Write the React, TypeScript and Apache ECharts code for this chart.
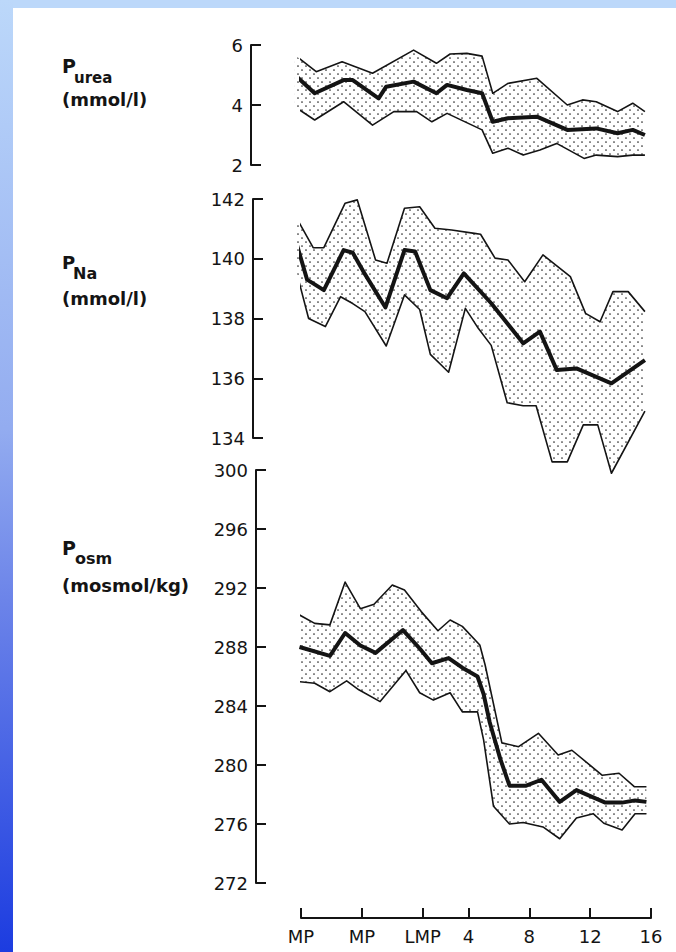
import React, { useEffect, useRef } from 'react';
import * as echarts from 'echarts';

// ---- x axis (weeks, with pre-pregnancy markers) ----
const xTickValues = [-7, -3, 1, 4, 8, 12, 16];
const xTickLabels = ['MP', 'MP', 'LMP', '4', '8', '12', '16'];

// ---- Plasma urea (mmol/l) ----
const ureaUpper = [[-7.4, 5.67], [-6.0, 5.11], [-4.3, 5.44], [-2.3, 5.06], [0.4, 5.83], [1.9, 5.39], [2.8, 5.7], [3.9, 5.72], [4.9, 5.63], [5.6, 4.39], [6.6, 4.72], [8.5, 4.89], [10.5, 4.0], [11.5, 4.17], [12.4, 4.11], [13.8, 3.78], [14.8, 4.06], [15.6, 3.78]];
const ureaMean = [[-7.4, 5.0], [-6.1, 4.39], [-4.2, 4.83], [-3.6, 4.83], [-1.9, 4.22], [-1.4, 4.61], [0.4, 4.78], [1.9, 4.39], [2.6, 4.67], [3.9, 4.5], [4.9, 4.39], [5.6, 3.44], [6.6, 3.56], [8.5, 3.61], [10.5, 3.17], [12.4, 3.22], [13.8, 3.06], [14.8, 3.17], [15.6, 3.0]];
const ureaLower = [[-7.4, 3.94], [-6.1, 3.5], [-4.2, 4.11], [-2.3, 3.33], [-0.9, 3.78], [0.6, 3.78], [1.6, 3.44], [2.6, 3.72], [4.9, 3.17], [5.6, 2.39], [6.6, 2.56], [7.6, 2.33], [8.7, 2.5], [9.8, 2.72], [11.6, 2.22], [12.4, 2.33], [13.8, 2.28], [14.8, 2.33], [15.6, 2.33]];

// ---- Plasma sodium (mmol/l) ----
const naUpper = [[-7.4, 141.46], [-6.2, 140.37], [-5.5, 140.37], [-4.1, 141.86], [-3.3, 141.97], [-2.8, 141.13], [-2.1, 139.96], [-1.35, 139.85], [-0.2, 141.69], [0.8, 141.74], [1.8, 141.02], [2.9, 140.96], [4.4, 140.85], [4.8, 140.82], [5.75, 140.02], [6.6, 139.96], [7.7, 139.23], [8.9, 140.13], [10.7, 139.4], [11.7, 138.17], [12.65, 137.89], [13.5, 138.9], [14.5, 138.9], [15.6, 138.23]];
const naMean = [[-7.3, 140.52], [-6.6, 139.3], [-5.5, 138.95], [-4.2, 140.29], [-3.6, 140.2], [-2.9, 139.57], [-1.45, 138.37], [-0.2, 140.29], [0.5, 140.24], [1.5, 138.95], [2.6, 138.68], [3.7, 139.51], [5.5, 138.51], [7.6, 137.17], [8.7, 137.56], [9.8, 136.28], [11.1, 136.33], [13.4, 135.83], [15.6, 136.61]];
const naLower = [[-7.3, 139.57], [-6.5, 138.0], [-5.4, 137.73], [-4.4, 138.73], [-3.6, 138.5], [-2.8, 138.23], [-1.4, 137.08], [-0.2, 138.79], [0.8, 138.3], [1.5, 136.8], [2.7, 136.2], [3.8, 138.34], [4.65, 137.67], [5.5, 137.1], [6.55, 135.18], [7.6, 135.08], [8.45, 135.08], [9.5, 133.2], [10.5, 133.2], [11.55, 134.44], [12.5, 134.44], [13.4, 132.82], [15.6, 134.9]];

// ---- Plasma osmolality (mosmol/kg) ----
const osmUpper = [[-7.1, 290.17], [-6.1, 289.6], [-5.1, 289.5], [-4.1, 292.4], [-3.1, 290.6], [-2.2, 290.9], [-1.0, 292.2], [-0.2, 291.86], [0.9, 290.4], [2.0, 289.1], [2.8, 289.83], [3.6, 289.4], [4.75, 288.14], [5.1, 286.78], [6.2, 281.5], [7.3, 281.24], [8.6, 282.15], [9.9, 280.68], [10.8, 281.0], [12.8, 279.3], [13.9, 279.44], [14.9, 278.53], [15.7, 278.53]];
const osmMean = [[-7.1, 288.0], [-5.1, 287.4], [-4.1, 288.95], [-3.1, 288.1], [-2.1, 287.6], [-0.3, 289.15], [0.8, 287.9], [1.6, 286.9], [2.7, 287.25], [3.6, 286.6], [4.6, 286.0], [5.0, 284.8], [5.4, 282.9], [6.1, 280.4], [6.7, 278.6], [7.8, 278.6], [8.8, 279.0], [10.0, 277.5], [11.1, 278.3], [13.0, 277.45], [14.1, 277.45], [14.95, 277.6], [15.7, 277.5]];
const osmLower = [[-7.1, 285.65], [-6.1, 285.54], [-5.1, 284.97], [-4.0, 285.7], [-3.2, 285.1], [-1.8, 284.3], [-0.1, 286.4], [0.8, 284.9], [1.7, 284.4], [2.8, 284.9], [3.6, 283.6], [4.6, 283.6], [5.0, 281.7], [5.65, 277.2], [6.7, 276.0], [7.6, 276.1], [8.9, 275.8], [10.0, 275.0], [11.1, 276.4], [12.2, 276.7], [12.9, 276.05], [14.1, 275.6], [14.95, 276.7], [15.7, 276.7]];

// ---- axis ranges ----
const ureaRange = { min: 2, max: 6, interval: 2 };
const naRange = { min: 134, max: 142, interval: 2 };
const osmRange = { min: 272, max: 300, interval: 4 };

const FONT = 'DejaVu Sans';
const INK = '#141414';

function stippleUrl() {
  const svg =
    '<svg xmlns="http://www.w3.org/2000/svg" width="8" height="8">' +
    '<circle cx="2" cy="2" r="0.85" fill="#2a2a2a"/>' +
    '<circle cx="6" cy="6" r="0.85" fill="#2a2a2a"/></svg>';
  return 'data:image/svg+xml;charset=utf-8,' + encodeURIComponent(svg);
}

function buildOption() {
  const pattern = { image: stippleUrl(), repeat: 'repeat', imageWidth: 8, imageHeight: 8 };

  const band = (upper: number[][], lower: number[][], idx: number) => {
    const pts = upper.concat(lower.slice().reverse());
    return {
      type: 'custom',
      xAxisIndex: idx,
      yAxisIndex: idx,
      clip: false,
      silent: true,
      z: 1,
      data: pts,
      encode: { x: 0, y: 1 },
      renderItem: (params: any, api: any) => {
        if (params.dataIndex !== 0) return null;
        const poly = pts.map((p) => api.coord(p));
        return {
          type: 'polygon',
          shape: { points: poly },
          style: { fill: pattern, stroke: null },
        };
      },
    };
  };

  const line = (data: number[][], idx: number, width: number, z: number) => ({
    type: 'line',
    xAxisIndex: idx,
    yAxisIndex: idx,
    data,
    clip: false,
    silent: true,
    symbol: 'none',
    z,
    lineStyle: { color: INK, width, join: 'round' },
  });

  const grids = [
    { left: 301, right: 25, top: 45, height: 120 },
    { left: 301, right: 25, top: 199, height: 239 },
    { left: 301, right: 25, top: 470, height: 413 },
  ];

  const hiddenX = (i: number) => ({ type: 'value', gridIndex: i, min: -7, max: 16, show: false });

  const yAx = (i: number, r: any, offset: number) => ({
    type: 'value',
    gridIndex: i,
    position: 'left',
    min: r.min,
    max: r.max,
    interval: r.interval,
    offset,
    axisLine: { show: true, onZero: false, lineStyle: { color: INK, width: 2 } },
    axisTick: { show: true, inside: true, length: 10, lineStyle: { color: INK, width: 2 } },
    axisLabel: { show: true, color: INK, fontSize: 18, fontFamily: FONT, margin: 8 },
    splitLine: { show: false },
  });

  const txt = (text: string, x: number, y: number, size: number) => ({
    type: 'text',
    x,
    y,
    silent: true,
    style: {
      text,
      fontSize: size,
      fontWeight: 'bold',
      fontFamily: FONT,
      fill: INK,
      align: 'left',
      verticalAlign: 'middle',
    },
  });

  return {
    animation: false,
    backgroundColor: '#ffffff',
    grid: grids,
    xAxis: [
      hiddenX(0),
      hiddenX(1),
      {
        type: 'value',
        gridIndex: 2,
        min: -7,
        max: 16,
        position: 'bottom',
        offset: 35,
        axisLine: { show: true, onZero: false, lineStyle: { color: INK, width: 2 } },
        axisTick: {
          show: true,
          inside: true,
          length: 10,
          lineStyle: { color: INK, width: 2 },
          customValues: xTickValues,
        },
        axisLabel: {
          show: true,
          customValues: xTickValues,
          showMinLabel: true,
          showMaxLabel: true,
          color: INK,
          fontSize: 18,
          fontFamily: FONT,
          margin: 9,
          formatter: (v: number) => {
            const i = xTickValues.indexOf(v);
            return i >= 0 ? xTickLabels[i] : '';
          },
        },
        splitLine: { show: false },
      },
    ],
    yAxis: [yAx(0, ureaRange, 50), yAx(1, naRange, 48), yAx(2, osmRange, 45)],
    series: [
      band(ureaUpper, ureaLower, 0),
      line(ureaUpper, 0, 1.6, 2),
      line(ureaLower, 0, 1.6, 2),
      line(ureaMean, 0, 4, 3),
      band(naUpper, naLower, 1),
      line(naUpper, 1, 1.6, 2),
      line(naLower, 1, 1.6, 2),
      line(naMean, 1, 4, 3),
      band(osmUpper, osmLower, 2),
      line(osmUpper, 2, 1.6, 2),
      line(osmLower, 2, 1.6, 2),
      line(osmMean, 2, 4, 3),
    ],
    graphic: [
      {
        type: 'rect',
        silent: true,
        z: -10,
        shape: { x: 0, y: 0, width: 676, height: 8 },
        style: { fill: '#bcd8fa' },
      },
      {
        type: 'rect',
        silent: true,
        z: -10,
        shape: { x: 0, y: 0, width: 13, height: 952 },
        style: {
          fill: new echarts.graphic.LinearGradient(0, 0, 0, 1, [
            { offset: 0, color: '#bcd8fa' },
            { offset: 0.45, color: '#93acf0' },
            { offset: 0.63, color: '#6c84e9' },
            { offset: 1, color: '#1c3ce0' },
          ]),
        },
      },
      txt('P', 62, 66, 19),
      txt('urea', 74, 78, 15),
      txt('(mmol/l)', 62, 99, 18),
      txt('P', 62, 262, 18),
      txt('Na', 73, 273, 16),
      txt('(mmol/l)', 62, 298, 18),
      txt('P', 62, 548, 19),
      txt('osm', 75, 558, 16),
      txt('(mosmol/kg)', 62, 585, 18),
    ],
  };
}

export default function App() {
  const ref = useRef<HTMLDivElement>(null);
  useEffect(() => {
    if (!ref.current) return;
    const chart = echarts.init(ref.current, null, { renderer: 'svg', width: 676, height: 952 });
    chart.setOption(buildOption() as any);
    return () => {
      chart.dispose();
    };
  }, []);
  return (
    <div
      ref={ref}
      style={{ position: 'fixed', left: 0, top: 0, width: 676, height: 952, background: '#ffffff' }}
    />
  );
}
